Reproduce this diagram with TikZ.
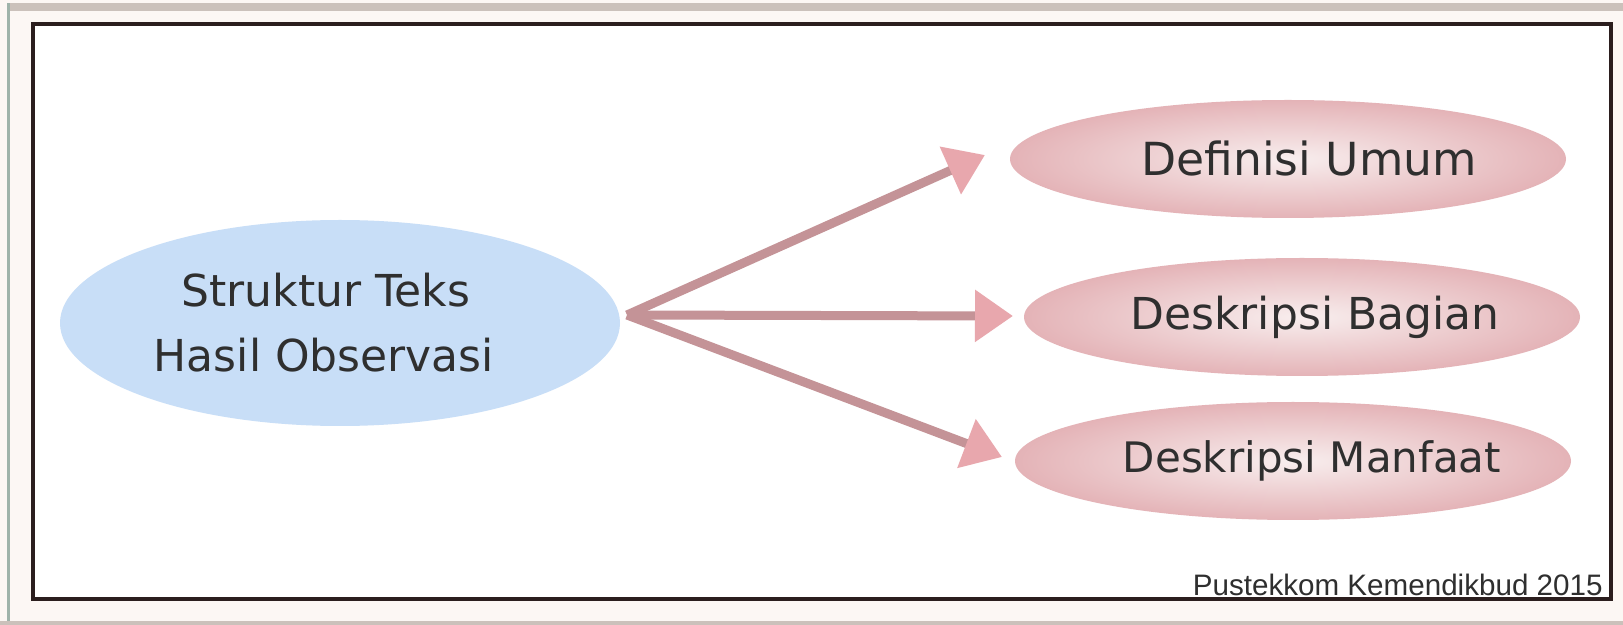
\documentclass[tikz,border=0pt]{standalone}
\usepackage{fontspec}
\setmainfont{DejaVu Sans}
\newfontfamily\creditfont{Liberation Sans}
\usetikzlibrary{shapes.geometric,arrows.meta}
\definecolor{bgcream}{HTML}{FCF7F4}
\definecolor{bandgrey}{HTML}{CBC1BB}
\definecolor{edgegreen}{HTML}{9FB3AA}
\definecolor{framedark}{HTML}{2B1E1E}
\definecolor{bluefill}{HTML}{C8DEF7}
\definecolor{pinkedge}{HTML}{E4B3B7}
\definecolor{pinkmid}{HTML}{F8EEEE}
\definecolor{textdark}{HTML}{2F2F2F}
\definecolor{shaft}{HTML}{C49397}
\definecolor{headpink}{HTML}{E8A7AD}
\tikzset{
  srcnode/.style={ellipse, fill=bluefill, minimum width=280pt, minimum height=103pt, inner sep=0pt,
    align=center, font=\fontsize{22pt}{32.5pt}\selectfont, text=textdark},
  tgtnode/.style={ellipse, inner color=pinkmid, outer color=pinkedge, minimum width=278pt, minimum height=59pt,
    inner sep=0pt, inner xsep=-60pt, font=\fontsize{22.8pt}{26pt}\selectfont, text=textdark},
  conn/.style={draw=shaft, line width=4.5pt, -{Triangle[length=19pt,width=25pt,fill=headpink,color=headpink]}},
}
\begin{document}
\begin{tikzpicture}[x=0.5pt,y=-0.5pt]
\useasboundingbox (0,0) rectangle (1623,625);
\fill[bgcream] (0,0) rectangle (1623,625);
\fill[bandgrey] (8,3) rectangle (1623,11);
\fill[edgegreen] (7,3) rectangle (10,622);
\fill[bandgrey] (0,621) rectangle (1623,625);
\draw[framedark, fill=white, line width=1.6pt] (33,24) rectangle (1611,599);

\node[srcnode] (src) at (340,323) {\hspace*{-14pt}Struktur Teks\\\hspace*{-16pt}Hasil Observasi};
\node[tgtnode] (t1) at (1288,159) {\raisebox{-3.5pt}{\hspace*{21pt}Definisi Umum}};
\node[tgtnode, font=\fontsize{22pt}{26pt}\selectfont] (t2) at (1302,317) {\raisebox{-1.5pt}{\hspace*{13pt}Deskripsi Bagian}};
\node[tgtnode, font=\fontsize{21pt}{26pt}\selectfont] (t3) at (1293,461) {\raisebox{-1pt}{\hspace*{19pt}Deskripsi Manfaat}};

\coordinate (e1) at (985,155);
\coordinate (e2) at (1013,316);
\coordinate (e3) at (1002,457);
\coordinate (s0) at (627,315);

\draw[conn] (s0) -- (e1);
\draw[conn] (s0) -- (e2);
\draw[conn] (s0) -- (e3);

\node[anchor=south east, inner sep=0pt, font=\creditfont\fontsize{14.8pt}{16pt}\selectfont, text=textdark] (credit) at (1603,596) {Pustekkom Kemendikbud 2015};
\end{tikzpicture}
\end{document}
